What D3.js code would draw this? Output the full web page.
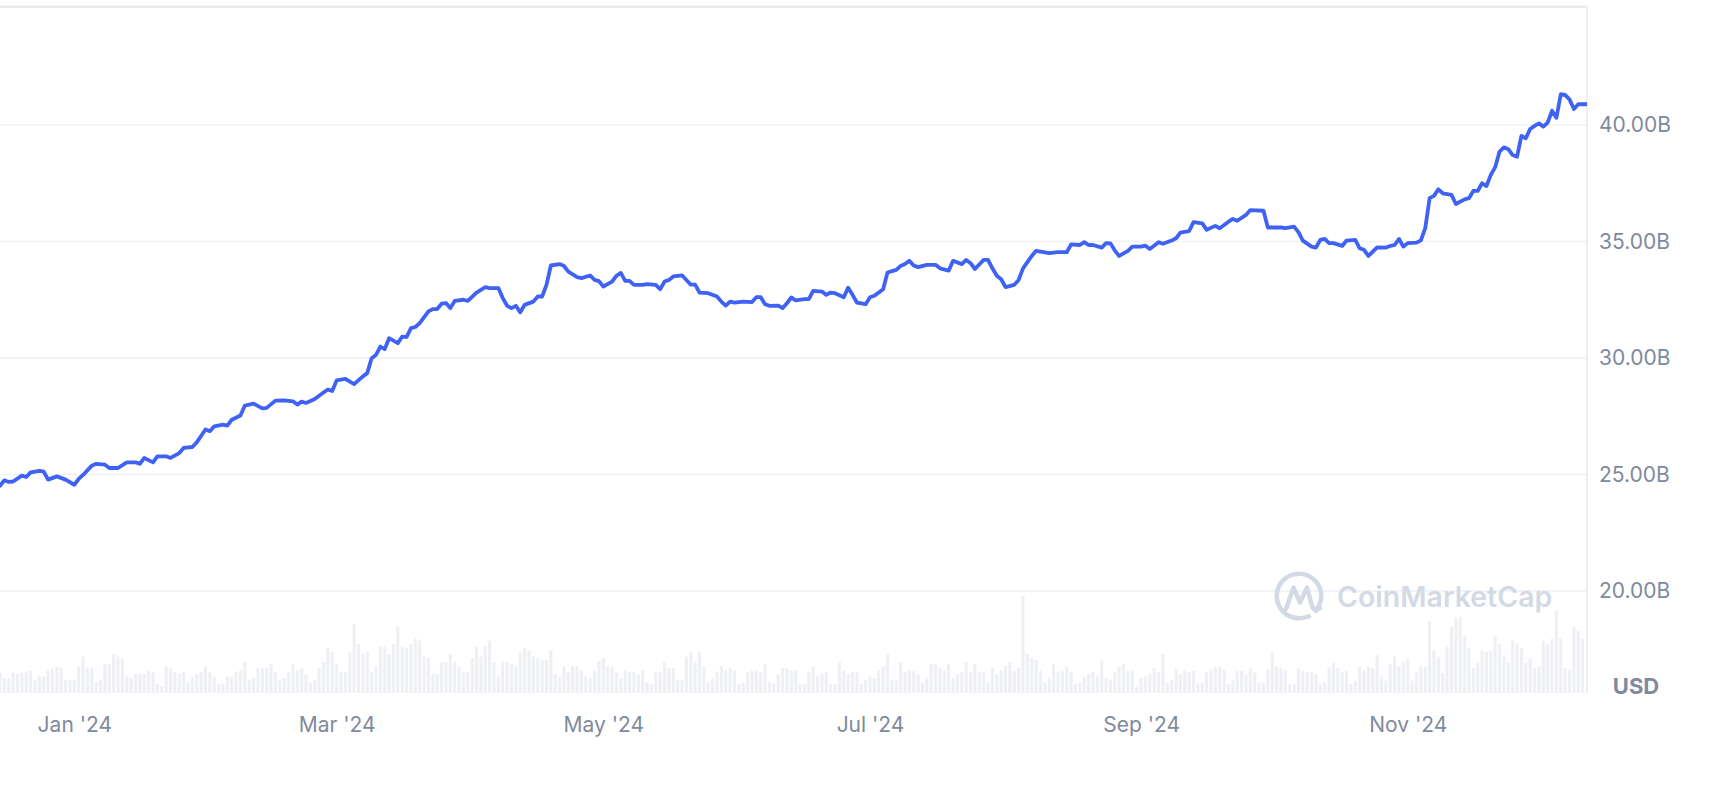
<!DOCTYPE html>
<html>
<head>
<meta charset="utf-8">
<script src="https://cdn.jsdelivr.net/npm/d3@7"></script>
<style>
  html, body { margin: 0; padding: 0; background: #fff; }
  svg { display: block; font-family: Inter, "Noto Sans", sans-serif; }
</style>
</head>
<body>
<script>

// USDC market cap, daily (in billions USD)
var dates = [
  "2023-12-15","2023-12-16","2023-12-17","2023-12-18","2023-12-20","2023-12-21","2023-12-22","2023-12-24","2023-12-25","2023-12-26","2023-12-28","2023-12-30",
  "2024-01-01","2024-01-02","2024-01-03","2024-01-05","2024-01-06","2024-01-08","2024-01-09","2024-01-11","2024-01-13","2024-01-15","2024-01-16","2024-01-17","2024-01-19","2024-01-20","2024-01-22","2024-01-23","2024-01-25","2024-01-26","2024-01-28","2024-01-29","2024-01-31",
  "2024-02-01","2024-02-02","2024-02-04","2024-02-05","2024-02-06","2024-02-08","2024-02-09","2024-02-11","2024-02-13","2024-02-14","2024-02-16","2024-02-18","2024-02-20","2024-02-21","2024-02-22","2024-02-23","2024-02-25","2024-02-27","2024-02-28","2024-02-29",
  "2024-03-01","2024-03-03","2024-03-05","2024-03-07","2024-03-08","2024-03-09","2024-03-10","2024-03-11","2024-03-12","2024-03-13","2024-03-15","2024-03-16","2024-03-17","2024-03-18","2024-03-19","2024-03-20","2024-03-22","2024-03-23","2024-03-24","2024-03-25","2024-03-26","2024-03-27","2024-03-28","2024-03-30","2024-03-31",
  "2024-04-02","2024-04-04","2024-04-05","2024-04-07","2024-04-08","2024-04-09","2024-04-10","2024-04-11","2024-04-12","2024-04-13","2024-04-15","2024-04-16","2024-04-17","2024-04-18","2024-04-19","2024-04-21","2024-04-22","2024-04-23","2024-04-25","2024-04-26","2024-04-28","2024-04-29","2024-04-30",
  "2024-05-01","2024-05-03","2024-05-04","2024-05-05","2024-05-06","2024-05-07","2024-05-08","2024-05-10","2024-05-11","2024-05-13","2024-05-14","2024-05-15","2024-05-16","2024-05-17","2024-05-19","2024-05-20","2024-05-21","2024-05-22","2024-05-23","2024-05-25","2024-05-27","2024-05-28","2024-05-29","2024-05-30","2024-05-31",
  "2024-06-02","2024-06-04","2024-06-05","2024-06-06","2024-06-07","2024-06-08","2024-06-10","2024-06-11","2024-06-12","2024-06-13","2024-06-14","2024-06-16","2024-06-17","2024-06-18","2024-06-20","2024-06-21","2024-06-22","2024-06-23","2024-06-25","2024-06-26","2024-06-27","2024-06-28","2024-06-30",
  "2024-07-01","2024-07-02","2024-07-04","2024-07-05","2024-07-07","2024-07-08","2024-07-09","2024-07-10","2024-07-11","2024-07-12","2024-07-14","2024-07-16","2024-07-17","2024-07-19","2024-07-20","2024-07-22","2024-07-23","2024-07-24","2024-07-25","2024-07-27","2024-07-28","2024-07-29","2024-07-30","2024-07-31",
  "2024-08-01","2024-08-03","2024-08-04","2024-08-05","2024-08-07","2024-08-08","2024-08-09","2024-08-11","2024-08-13","2024-08-15","2024-08-16","2024-08-18","2024-08-19","2024-08-20","2024-08-21","2024-08-23","2024-08-24","2024-08-25","2024-08-26","2024-08-27","2024-08-29","2024-08-30",
  "2024-09-01","2024-09-02","2024-09-03","2024-09-05","2024-09-06","2024-09-08","2024-09-09","2024-09-10","2024-09-12","2024-09-13","2024-09-15","2024-09-16","2024-09-18","2024-09-19","2024-09-21","2024-09-22","2024-09-23","2024-09-25","2024-09-26","2024-09-29","2024-09-30",
  "2024-10-02","2024-10-03","2024-10-04","2024-10-06","2024-10-07","2024-10-08","2024-10-10","2024-10-11","2024-10-12","2024-10-13","2024-10-14","2024-10-15","2024-10-17","2024-10-18","2024-10-20","2024-10-21","2024-10-22","2024-10-23","2024-10-25","2024-10-27","2024-10-28","2024-10-29","2024-10-30","2024-10-31",
  "2024-11-01","2024-11-03","2024-11-04","2024-11-05","2024-11-06","2024-11-07","2024-11-08","2024-11-09","2024-11-11","2024-11-12","2024-11-14","2024-11-15","2024-11-16","2024-11-17","2024-11-18","2024-11-19","2024-11-20","2024-11-21","2024-11-22","2024-11-23","2024-11-24","2024-11-25","2024-11-26","2024-11-27","2024-11-28","2024-11-29","2024-11-30",
  "2024-12-01","2024-12-02","2024-12-03","2024-12-04","2024-12-05","2024-12-06","2024-12-07","2024-12-08","2024-12-09","2024-12-10","2024-12-12"
];

var marketCap = [
  24.52,24.75,24.68,24.70,24.95,24.89,25.09,25.16,25.12,24.78,24.92,24.78,
  24.56,24.81,24.98,25.38,25.46,25.42,25.28,25.28,25.52,25.52,25.46,25.71,25.52,25.78,25.78,25.71,25.92,26.14,26.18,26.38,26.93,
  26.86,27.07,27.14,27.10,27.35,27.53,27.96,28.04,27.84,27.86,28.17,28.18,28.14,28.00,28.13,28.07,28.24,28.52,28.65,28.58,
  29.04,29.10,28.88,29.21,29.35,29.99,30.13,30.49,30.38,30.85,30.64,30.92,30.90,31.28,31.33,31.50,32.00,32.10,32.10,32.33,32.36,32.14,32.45,32.50,32.45,
  32.81,33.04,33.00,33.00,32.57,32.24,32.14,32.24,31.96,32.28,32.42,32.64,32.64,33.14,33.97,34.03,33.95,33.71,33.47,33.43,33.54,33.35,33.30,
  33.07,33.28,33.53,33.65,33.31,33.31,33.14,33.14,33.17,33.14,32.95,33.28,33.35,33.50,33.55,33.35,33.15,33.15,32.81,32.78,32.64,32.42,32.25,32.42,32.38,
  32.42,32.40,32.61,32.61,32.31,32.24,32.25,32.14,32.35,32.60,32.47,32.53,32.53,32.88,32.85,32.71,32.81,32.78,32.61,33.02,32.71,32.38,32.31,
  32.61,32.67,32.95,33.67,33.78,33.95,34.03,34.17,33.97,33.90,34.00,34.00,33.85,33.75,34.17,34.03,34.21,34.07,33.82,34.21,34.21,33.85,33.53,33.38,
  33.04,33.14,33.35,33.85,34.38,34.60,34.57,34.50,34.54,34.54,34.88,34.85,34.97,34.85,34.85,34.74,34.93,34.92,34.61,34.38,34.60,34.78,
  34.78,34.82,34.68,34.97,34.90,35.04,35.14,35.38,35.45,35.83,35.78,35.50,35.67,35.57,35.85,35.97,35.89,36.14,36.35,36.32,35.60,
  35.60,35.61,35.57,35.64,35.40,35.04,34.78,34.74,35.07,35.11,34.93,34.93,34.81,35.04,35.07,34.71,34.64,34.38,34.75,34.74,34.81,34.85,35.11,34.78,
  34.93,34.95,35.05,35.57,36.86,36.96,37.24,37.07,37.00,36.61,36.81,36.86,37.17,37.17,37.50,37.38,37.86,38.19,38.86,39.04,38.96,38.71,38.64,39.53,39.43,39.83,39.96,
  40.07,39.93,40.10,40.61,40.31,41.32,41.29,41.10,40.69,40.89,40.89
];

// daily volume (billions USD), one bar per day starting at volumeStart
var volumeStart = "2023-12-15";
var volume = [
  5.2,3.8,3.8,5.2,4.8,5.2,5.2,5.7,3.3,4.2, 4.2,5.7,6.1,6.7,6.3,3.3,3.3,3.3,6.7,9.2,
  6.3,6.3,2.7,3.3,7.3,7.3,9.8,9.2,8.8,4.2, 3.8,4.8,4.8,4.8,5.7,5.3,2.3,1.8,6.7,6.3,
  5.3,4.8,5.3,2.7,4.2,4.8,5.3,6.7,5.3,4.2, 2.3,2.3,4.2,4.2,5.3,5.7,7.8,3.3,3.8,6.3,
  6.3,6.3,7.3,5.3,3.3,3.8,5.3,7.3,5.7,6.3, 4.8,2.7,3.3,6.3,7.8,11.3,10.3,7.3,5.3,5.3,
  10.3,17.3,12.3,9.8,10.3,5.3,6.7,11.7,11.7,9.8, 12.3,16.7,11.7,11.3,12.3,13.6,13.2,9.2,8.8,4.8,
  4.8,7.8,7.8,9.8,7.8,6.7,5.3,5.3,8.8,11.7, 9.2,11.7,13.2,7.8,4.2,7.8,7.8,7.3,6.7,10.3,
  11.3,10.7,9.2,8.8,8.3,8.3,10.7,4.8,4.2,6.7, 5.3,6.7,6.7,5.7,4.2,3.8,5.7,8.0,
  8.8,6.7,6.7,5.3,3.8,5.7,5.3,5.3,4.8,5.7, 2.7,2.3,5.3,5.3,7.8,6.3,6.3,3.3,3.3,9.2,
  10.3,7.8,10.3,6.7,2.7,3.8,5.3,6.7,5.7,6.3, 5.7,2.3,2.7,5.3,5.7,5.7,5.3,7.3,2.7,2.3,
  4.8,6.3,6.3,5.7,5.7,2.3,2.3,5.3,6.7,4.2, 4.8,5.3,2.3,2.3,7.8,5.7,4.8,5.3,5.3,2.3,
  3.3,4.2,3.8,5.7,6.7,9.8,3.3,3.3,7.8,5.3, 5.7,5.7,4.8,2.7,3.8,7.3,7.3,6.3,5.7,7.3,
  3.8,4.8,5.3,7.8,5.3,7.3,5.3,5.3,2.7,6.3, 4.8,5.7,6.7,7.8,5.7,6.3,24.3,9.8,8.8,8.3,
  5.7,2.7,3.8,7.3,5.3,5.7,6.7,5.3,2.3,2.7, 4.2,4.8,5.3,4.2,8.2,3.8,3.3,5.3,6.7,7.3,
  5.7,5.7,1.7,3.8,4.2,4.8,6.3,5.3,9.8,2.7, 3.3,6.1,4.8,5.7,5.3,5.7,2.5,
  2.7,5.4,6.0,6.5,6.7,5.8,2.3,3.2,5.6,5.6, 4.6,6.3,5.2,2.7,2.7,6.0,10.2,6.7,6.3,5.7,
  2.3,2.3,6.3,5.7,5.3,5.3,4.8,2.3,2.7,6.5, 7.7,6.3,5.3,5.6,2.3,3.1,6.7,5.8,6.7,6.3,
  9.6,4.2,3.2,7.3,9.2,6.7,7.9,8.6,3.2,5.2, 6.7,6.7,18.1,10.8,9.2,5.0,11.7,16.7,19.0,19.0,
  14.2,11.3,6.3,7.7,10.7,10.3,10.7,14.2,12.3,9.2, 7.8,13.2,12.5,11.3,7.7,8.6,6.3,6.7,13.1,12.3,
  13.6,20.6,13.6,6.3,5.8,16.7,15.6,13.6
];

var yTicks = [20, 25, 30, 35, 40];
var currency = "USD";
var watermark = "CoinMarketCap";

var width = 1728,
	height = 788,
	plotRight = 1587,
	plotTop = 6.7,
	plotBottom = 693;

var parse = d3.utcParse("%Y-%m-%d");

var x = d3.scaleUtc()
	.domain([parse("2023-12-15"), parse("2024-12-12")])
	.range([0, plotRight]);

var y = d3.scaleLinear().domain([20, 40]).range([591, 125]);
var yv = d3.scaleLinear().domain([0, 25]).range([plotBottom, plotBottom - 100]);

var svg = d3.select("body").append("svg")
	.attr("width", width)
	.attr("height", height);

svg.append("rect").attr("width", width).attr("height", height).attr("fill", "#fff");

svg.append("clipPath").attr("id", "plot")
	.append("rect")
	.attr("x", 0).attr("y", plotTop)
	.attr("width", plotRight).attr("height", plotBottom - plotTop);

// grid
svg.append("g").selectAll("line")
	.data(yTicks)
	.enter().append("line")
	.attr("x1", 0).attr("x2", plotRight)
	.attr("y1", function(d){ return y(d); })
	.attr("y2", function(d){ return y(d); })
	.style("stroke", "#eff1f4")
	.style("stroke-width", 1.5);

// frame
svg.append("line")
	.attr("x1", 0).attr("x2", plotRight)
	.attr("y1", plotTop).attr("y2", plotTop)
	.style("stroke", "#e4e6ea").style("stroke-width", 2);
svg.append("line")
	.attr("x1", plotRight).attr("x2", plotRight)
	.attr("y1", plotTop - 1).attr("y2", plotBottom)
	.style("stroke", "#eceef1").style("stroke-width", 2);

// volume bars
var volStart = parse(volumeStart);
var bw = 3.2;
svg.append("g")
	.attr("clip-path", "url(#plot)")
	.selectAll("rect")
	.data(volume)
	.enter().append("rect")
	.attr("x", function(d, i){ return x(d3.utcDay.offset(volStart, i)) - bw / 2; })
	.attr("y", function(d){ return yv(d); })
	.attr("width", bw)
	.attr("height", function(d){ return plotBottom - yv(d) + 3; })
	.attr("rx", 1.5)
	.style("fill", "#eef0f4");

// watermark
var wm = svg.append("g");
wm.append("path")
	.attr("d", d3.arc()({ innerRadius: 20, outerRadius: 24.5, startAngle: 2.6, endAngle: 2.6 + Math.PI * 1.93 }))
	.attr("transform", "translate(1299,596)")
	.style("fill", "#d3d9e5");
wm.append("path")
	.attr("d", "M1286,609 L1293.5,587.5 L1300,602.5 L1307,587.5 L1312,606 Q1314,612 1320,608")
	.style("fill", "none")
	.style("stroke", "#d3d9e5")
	.style("stroke-width", 4.5)
	.style("stroke-linejoin", "round")
	.style("stroke-linecap", "round");
wm.append("text")
	.attr("x", 1337)
	.attr("y", 607)
	.style("font-size", "28.5px")
	.style("font-weight", 600)
	.style("fill", "#d3d9e5")
	.text(watermark);

// market cap line
var line = d3.line()
	.x(function(d){ return x(d.date); })
	.y(function(d){ return y(d.value); });

var series = dates.map(function(d, i){ return { date: parse(d), value: marketCap[i] }; });

svg.append("path")
	.datum(series)
	.attr("clip-path", "url(#plot)")
	.attr("d", line)
	.style("fill", "none")
	.style("stroke", "#3f62f4")
	.style("stroke-width", 3.8)
	.style("stroke-linejoin", "round")
	.style("stroke-linecap", "round");

// axes
var xAxis = svg.append("g")
	.attr("transform", "translate(0," + plotBottom + ")")
	.call(d3.axisBottom(x)
		.ticks(d3.utcMonth.every(2))
		.tickFormat(d3.utcFormat("%b '%y"))
		.tickSize(0)
		.tickPadding(24));
xAxis.select(".domain").remove();
xAxis.selectAll("text")
	.style("font-family", "Inter, sans-serif")
	.style("font-size", "21px")
	.style("fill", "#808a9d");

var yAxis = svg.append("g")
	.attr("transform", "translate(" + plotRight + ",0)")
	.call(d3.axisRight(y)
		.tickValues(yTicks)
		.tickFormat(function(d){ return d.toFixed(2) + "B"; })
		.tickSize(0)
		.tickPadding(12));
yAxis.select(".domain").remove();
yAxis.selectAll("text")
	.style("font-family", "Inter, sans-serif")
	.style("font-size", "21px")
	.style("fill", "#808a9d");

svg.append("text")
	.attr("x", 1636)
	.attr("y", 686)
	.attr("dy", "0.36em")
	.attr("text-anchor", "middle")
	.style("font-size", "22px")
	.style("font-weight", 700)
	.style("fill", "#808a9d")
	.text(currency);

</script>
</body>
</html>
